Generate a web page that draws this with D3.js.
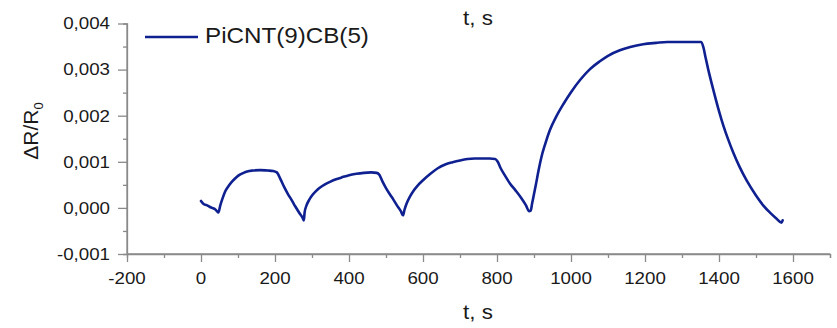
<!DOCTYPE html>
<html>
<head>
<meta charset="utf-8">
<script src="https://cdn.jsdelivr.net/npm/d3@7"></script>
<style>
  html, body { margin: 0; padding: 0; background: #fff; }
  svg { display: block; }
  text { font-family: "Liberation Sans", Arial, sans-serif; fill: #1a1a1a; }
</style>
</head>
<body>
<svg id="chart" width="837" height="328"></svg>
<script>
// ---- data ----
const seriesName = "PiCNT(9)CB(5)";
const time = [
  0, 4, 8, 15, 22, 30, 38, 43, 47,
  52, 58, 65, 75, 85, 95, 105, 115, 125, 140, 160, 180, 195, 205,
  215, 225, 235, 245, 255, 265, 275, 278,
  280, 285, 292, 300, 310, 320, 335, 350, 365, 380, 400, 420, 440, 460, 475, 482,
  490, 500, 510, 520, 530, 540, 546,
  550, 556, 565, 575, 585, 600, 620, 640, 660, 680, 700, 720, 740, 760, 780, 795, 802,
  810, 820, 835, 850, 865, 878, 887, 891,
  895, 900, 905, 912, 920, 930, 943, 960, 980, 1000, 1025, 1050, 1078, 1100, 1132, 1160, 1195, 1230, 1260, 1300, 1340, 1352,
  1358, 1364, 1371, 1385, 1400, 1412, 1425, 1439, 1455, 1475, 1500, 1520, 1540, 1555, 1569, 1572
];
const deltaR = [
  0.00015, 0.00011, 0.00008, 0.00006, 0.00003, 0.00000, -0.00003, -0.00007, -0.00010,
  0.00005, 0.00020, 0.00035, 0.00048, 0.00058, 0.00066, 0.00072, 0.00076, 0.00079, 0.00081, 0.00082, 0.00081, 0.00080, 0.00077,
  0.00062, 0.00045, 0.00030, 0.00017, 0.00003, -0.00010, -0.00022, -0.00027,
  -0.00010, 0.00005, 0.00017, 0.00027, 0.00036, 0.00043, 0.00051, 0.00057, 0.00062, 0.00066, 0.00071, 0.00074, 0.00076, 0.00077, 0.00076, 0.00072,
  0.00058, 0.00043, 0.00030, 0.00018, 0.00005, -0.00007, -0.00016,
  -0.00004, 0.00010, 0.00025, 0.00038, 0.00048, 0.00060, 0.00074, 0.00086, 0.00094, 0.00099, 0.00103, 0.00106, 0.00107, 0.00107, 0.00107, 0.00106, 0.00100,
  0.00086, 0.00072, 0.00053, 0.00038, 0.00022, 0.00006, -0.00007, -0.00006,
  0.00010, 0.00030, 0.00050, 0.00080, 0.00110, 0.00138, 0.00169, 0.00198, 0.00226, 0.00251, 0.00278, 0.00300, 0.00318, 0.00330, 0.00342, 0.00349, 0.00355, 0.00358, 0.00360, 0.00360, 0.00360, 0.00360,
  0.00348, 0.00325, 0.00300, 0.00255, 0.00210, 0.00178, 0.00148, 0.00119, 0.00090, 0.00059, 0.00027, 0.00005, -0.00012, -0.00023, -0.00032, -0.00027
];
const xTicks = [-200, 0, 200, 400, 600, 800, 1000, 1200, 1400, 1600];
const xMinorTicks = [-100, 100, 300, 500, 700, 900, 1100, 1300, 1500, 1700];
const yTicks = [-0.001, 0.000, 0.001, 0.002, 0.003, 0.004];
const yMinorTicks = [-0.0005, 0.0005, 0.0015, 0.0025, 0.0035];
const xTitle = "t, s";
const topTitle = "t, s";

// ---- layout ----
const lineColor = "#0f2090";
const axisColor = "#8a8a8a";
const svg = d3.select("#chart");
const x = d3.scaleLinear().domain([-200, 1700]).range([127, 830]);
const y = d3.scaleLinear().domain([-0.001, 0.004]).range([254, 23.5]);
const fmtY = v => d3.format(".3f")(v).replace(".", ",").replace("−", "-");

function label(g, txt, tx, ty, size, anchor, sx) {
  return g.append("text")
    .attr("transform", `translate(${tx},${ty}) scale(${sx},1)`)
    .attr("text-anchor", anchor)
    .style("font-size", size + "px")
    .text(txt);
}

// axes
const gx = svg.append("g").attr("transform", `translate(0,${y(-0.001)})`);
gx.call(d3.axisBottom(x).tickValues(xTicks).tickSize(8).tickFormat(""));
gx.append("g").call(d3.axisBottom(x).tickValues(xMinorTicks).tickSize(4).tickFormat(""));
gx.selectAll(".domain").attr("stroke", axisColor).attr("stroke-width", 1.3);
gx.select(".domain").attr("d", `M${x(-200)},0H${x(1700)}`);
gx.selectAll(".tick line").attr("stroke", axisColor).attr("stroke-width", 1.3);

const gy = svg.append("g").attr("transform", `translate(${x(-200)},0)`);
gy.call(d3.axisLeft(y).tickValues(yTicks).tickSize(9).tickFormat(""));
gy.append("g").call(d3.axisLeft(y).tickValues(yMinorTicks).tickSize(4).tickFormat(""));
gy.selectAll(".domain").attr("stroke", axisColor).attr("stroke-width", 1.3);
gy.select(".domain").attr("d", `M0,${y(-0.001)}V${y(0.004)}`);
gy.selectAll(".tick line").attr("stroke", axisColor).attr("stroke-width", 1.3);

// tick labels
const tl = svg.append("g");
xTicks.forEach(t => label(tl, String(t), x(t), 284, 16.3, "middle", 1.15));
yTicks.forEach(v => label(tl, fmtY(v), 110, y(v) + 5.8, 16.3, "end", 1.15));

// titles
label(svg, xTitle, 463, 319, 20, "start", 1.12);
label(svg, topTitle, 463, 25, 20, "start", 1.12);

// y title (rotated)
const yt = svg.append("text")
  .attr("transform", "translate(38,131) rotate(-90)")
  .attr("text-anchor", "middle")
  .style("font-size", "21px");
yt.append("tspan").text("ΔR/R");
yt.append("tspan").attr("dy", 5).style("font-size", "13px").text("0");

// data line
const pts = time.map((t, i) => [t, deltaR[i]]);
svg.append("path")
  .datum(pts)
  .attr("fill", "none")
  .attr("stroke", lineColor)
  .attr("stroke-width", 2.6)
  .attr("stroke-linejoin", "round")
  .attr("stroke-linecap", "round")
  .attr("d", d3.line().x(d => x(d[0])).y(d => y(d[1])).curve(d3.curveMonotoneX));

// legend
svg.append("line")
  .attr("x1", 145).attr("x2", 198).attr("y1", 37).attr("y2", 37)
  .attr("stroke", lineColor).attr("stroke-width", 2.6);
label(svg, seriesName, 205, 43, 22, "start", 1.1);
</script>
</body>
</html>
